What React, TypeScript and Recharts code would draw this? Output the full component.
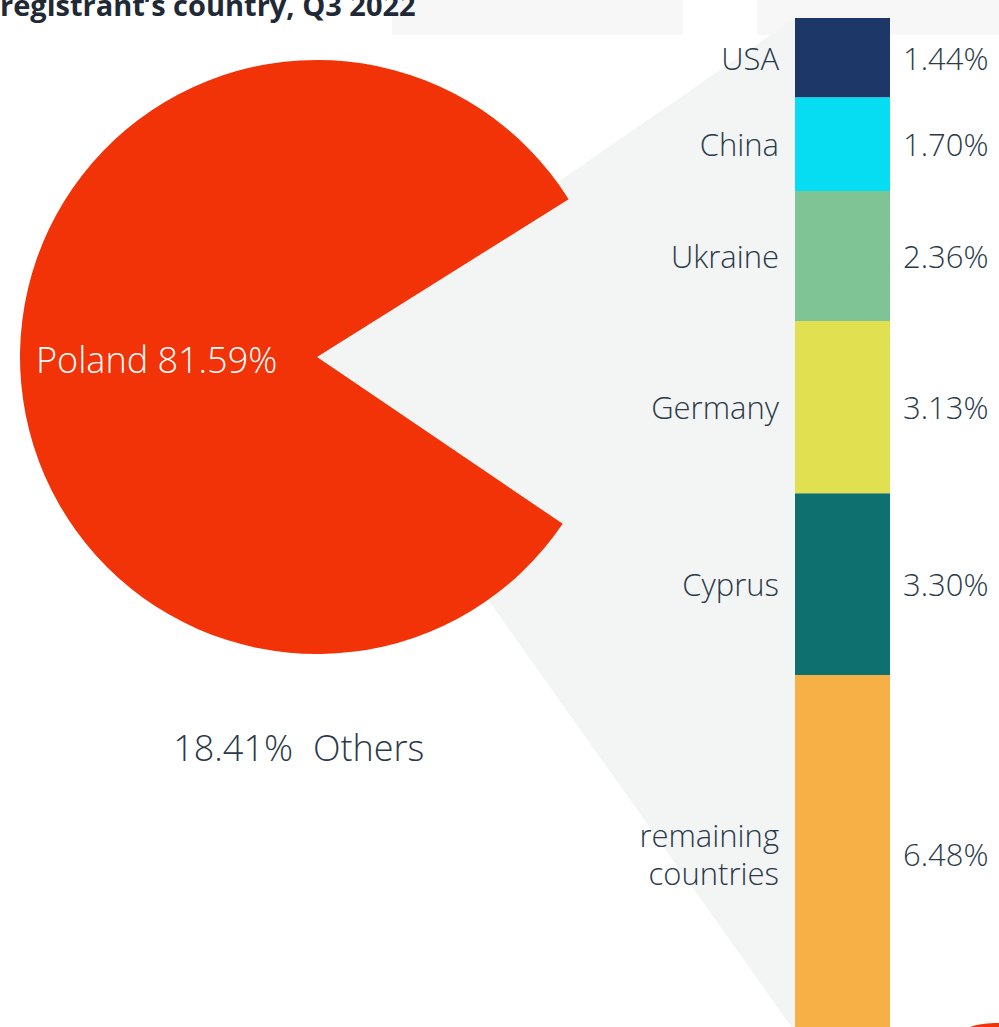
import React from "react";
import { PieChart, Pie, Cell, BarChart, Bar, XAxis, YAxis, LabelList } from "recharts";

// main pie: Poland vs everything else
const pieNames = ["Poland", "Others"];
const pieValues = [81.59, 18.41];
const pieColors = ["#F23207", "transparent"];

// breakdown of "Others"
const countries = ["USA", "China", "Ukraine", "Germany", "Cyprus", "remaining countries"];
const shares = [1.44, 1.7, 2.36, 3.13, 3.3, 6.48];
const barColors = ["#1D3769", "#06DCF2", "#7FC495", "#E0E050", "#0F716F", "#F7B045"];

const FONT = "'Open Sans', Lato, sans-serif";
const TEXT = "#2B3A4A";

const CX = 312;
const CY = 352;
const R = 297;

const BAR_LEFT = 795;
const BAR_RIGHT = 890;
const BAR_TOP = 18;
const BAR_BOTTOM = 1032;

const pieData = pieNames.map((name, i) => ({ name, value: pieValues[i] }));
const othersTotal = shares.reduce((a, b) => a + b, 0);
const barRow: Record<string, number | string> = { name: "Others" };
shares.forEach((v, i) => {
  barRow["s" + i] = v;
});
const barData = [barRow];

const fmt = (v: number) => `${v.toFixed(2)}%`;

function PieLabel(props: any) {
  const { cx, cy, outerRadius, index } = props;
  if (index === 0) {
    return (
      <text
        x={cx - outerRadius + 16}
        y={cy + 2}
        fill="#FFFFFF"
        fontSize={36}
        fontWeight={300}
        fontFamily={FONT}
        dominantBaseline="central"
      >
        {`${pieNames[0]} ${fmt(pieValues[0])}`}
      </text>
    );
  }
  return (
    <g>
      <text
        x={cx - 24}
        y={cy + outerRadius + 93}
        fill={TEXT}
        fontSize={36}
        fontWeight={300}
        fontFamily={FONT}
        textAnchor="end"
        dominantBaseline="central"
      >
        {fmt(pieValues[1])}
      </text>
      <text
        x={cx - 4}
        y={cy + outerRadius + 93}
        fill={TEXT}
        fontSize={36}
        fontWeight={300}
        fontFamily={FONT}
        textAnchor="start"
        dominantBaseline="central"
      >
        {pieNames[1]}
      </text>
    </g>
  );
}

function makeSegmentLabel(i: number) {
  return (props: any) => {
    const { x, y, width, height } = props;
    const mid = Number(y) + Number(height) / 2;
    const lines = countries[i].split(" ");
    const lh = 38;
    return (
      <g fontFamily={FONT} fontWeight={300} fontSize={31} fill={TEXT}>
        {lines.map((ln, k) => (
          <text
            key={k}
            x={Number(x) - 16}
            y={mid + (k - (lines.length - 1) / 2) * lh}
            textAnchor="end"
            dominantBaseline="central"
          >
            {ln}
          </text>
        ))}
        <text
          x={Number(x) + Number(width) + 13}
          y={mid}
          textAnchor="start"
          dominantBaseline="central"
        >
          {fmt(shares[i])}
        </text>
      </g>
    );
  };
}

export default function App() {
  const order = shares.map((_, i) => shares.length - 1 - i);
  return (
    <div
      style={{
        position: "absolute",
        left: 0,
        top: 0,
        width: 999,
        height: 1027,
        overflow: "hidden",
        background: "#FFFFFF",
      }}
    >
      {/* header background pieces */}
      <div style={{ position: "absolute", left: 392, top: 0, width: 291, height: 35, background: "#F7F7F7" }} />
      <div style={{ position: "absolute", left: 757, top: 0, width: 242, height: 35, background: "#F7F7F7" }} />
      <div
        style={{
          position: "absolute",
          left: 0,
          top: -12,
          fontFamily: FONT,
          fontWeight: 700,
          fontSize: 29,
          lineHeight: "34px",
          color: "#1F2A36",
          whiteSpace: "nowrap",
        }}
      >
        registrant’s country, Q3 2022
      </div>

      {/* connector from pie to bar */}
      <svg width={999} height={1027} style={{ position: "absolute", left: 0, top: 0 }}>
        <polygon
          points={`${CX},${CY} ${BAR_LEFT},${BAR_TOP} ${BAR_RIGHT},${BAR_TOP} ${BAR_RIGHT},${BAR_BOTTOM} ${BAR_LEFT},${BAR_BOTTOM}`}
          fill="#F3F5F5"
        />
      </svg>

      <div style={{ position: "absolute", left: 0, top: 0 }}>
        <PieChart width={640} height={800}>
          <Pie
            data={pieData}
            dataKey="value"
            nameKey="name"
            cx={CX}
            cy={CY}
            outerRadius={R}
            startAngle={32.1}
            endAngle={392.1}
            stroke="none"
            labelLine={false}
            label={PieLabel}
            isAnimationActive={false}
          >
            {pieData.map((d, i) => (
              <Cell key={d.name} fill={pieColors[i]} />
            ))}
          </Pie>
        </PieChart>
      </div>

      <div style={{ position: "absolute", left: 640, top: 0 }}>
        <BarChart
          width={359}
          height={BAR_BOTTOM + 8}
          data={barData}
          margin={{ top: BAR_TOP, bottom: 8, left: BAR_LEFT - 640, right: 999 - BAR_RIGHT }}
          barCategoryGap={0}
          style={{ overflow: "visible" }}
        >
          <XAxis dataKey="name" hide />
          <YAxis hide domain={[0, othersTotal]} />
          {order.map((i) => (
            <Bar
              key={i}
              dataKey={"s" + i}
              stackId="a"
              fill={barColors[i]}
              isAnimationActive={false}
            >
              <LabelList dataKey={"s" + i} content={makeSegmentLabel(i)} />
            </Bar>
          ))}
        </BarChart>
      </div>

      {/* small red shape peeking at the bottom right */}
      <div
        style={{
          position: "absolute",
          left: 915,
          top: 1023,
          width: 160,
          height: 160,
          borderRadius: "50%",
          background: "#F23207",
        }}
      />
    </div>
  );
}
